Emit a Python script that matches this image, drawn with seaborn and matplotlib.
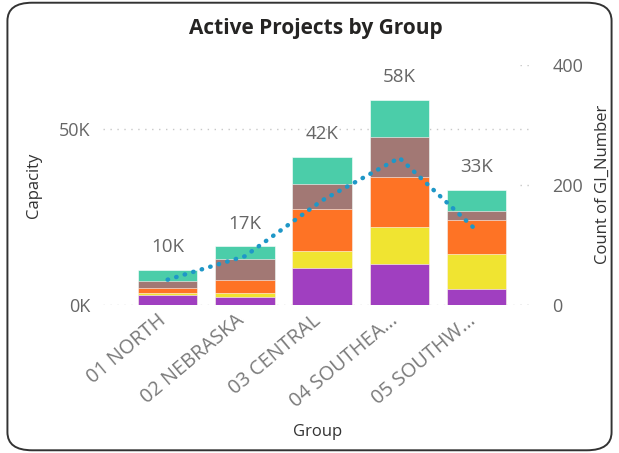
import numpy as np
import pandas as pd
import matplotlib
matplotlib.use("Agg")
import matplotlib.pyplot as plt
import matplotlib.transforms as mtransforms
from matplotlib.patches import FancyBboxPatch
import seaborn as sns

# data
groups = ['01 NORTH', '02 NEBRASKA', '03 CENTRAL', '04 SOUTHEA...', '05 SOUTHW...']
purple = [2.8, 2.2, 10.4, 11.6, 4.5]     # capacity, thousands
yellow = [0.6, 1.1, 4.8, 10.5, 10.0]
orange = [1.4, 3.8, 11.9, 14.3, 9.5]
brown = [2.1, 5.9, 7.2, 11.3, 2.6]
teal = [2.9, 3.6, 7.6, 10.5, 6.0]
gi_count = [42, 81, 174, 245, 124]

segments = [purple, yellow, orange, brown, teal]
seg_colors = ['#A03FC0', '#F0E431', '#FE7325', '#A27874', '#4BCDA9']

sns.set_style('white')
plt.rcParams['font.family'] = ['Open Sans', 'DejaVu Sans']

fig = plt.figure(figsize=(6.19, 4.53), dpi=100)
ax = fig.add_axes([0.166, 0.327, 0.695, 0.530])

df = pd.DataFrame({'Group': groups})
cum = np.zeros(len(groups))
cums = []
for seg in segments:
    cum = cum + np.array(seg) * 1000
    cums.append(cum.copy())

# stacked bars: draw cumulative totals from the top segment down
for c, col in reversed(list(zip(cums, seg_colors))):
    df['v'] = c
    sns.barplot(data=df, x='Group', y='v', color=col, width=0.77,
                edgecolor='white', linewidth=0.4, saturation=1, ax=ax)

totals = cums[-1]
for i, t in enumerate(totals):
    ax.annotate('%dK' % round(t / 1000), (i, t), xytext=(0, 10),
                textcoords='offset points', ha='center', va='bottom',
                fontsize=13.5, color='#666666')

ax.set_ylim(0, 68200)
ax.set_xlim(-0.84, 4.73)
ax.set_yticks([0, 50000])
ax.set_yticklabels(['0K', '50K'], fontsize=13, color='#666666')
ax.tick_params(axis='both', length=0, pad=9)
ax.set_xticks(range(len(groups)))
ax.set_xticklabels(groups, rotation=40, ha='right', rotation_mode='anchor',
                   fontsize=14.3, color='#7a7a7a')
ax.tick_params(axis='x', pad=4)
shift = mtransforms.ScaledTranslation(-10 / 100, 0, fig.dpi_scale_trans)
for lab in ax.get_xticklabels():
    lab.set_transform(lab.get_transform() + shift)
for yv in [0, 50000]:
    ax.axhline(yv, color='#c8c8c8', linestyle=(0, (1, 4)), linewidth=1, zorder=0)
for s in ax.spines.values():
    s.set_visible(False)
ax.set_ylabel('Capacity', fontsize=12, color='#333333', labelpad=12)
ax.set_xlabel('Group', fontsize=12, color='#333333', labelpad=9)

ax2 = ax.twinx()
sns.lineplot(x=np.arange(len(groups)), y=gi_count, ax=ax2, color='#1F97C7',
             linewidth=3.2, linestyle=(0, (0.1, 1.9)), solid_capstyle='round',
             dash_capstyle='round')
ax2.set_ylim(0, 400)
ax2.set_yticks([0, 200, 400])
ax2.set_yticklabels(['0', '200', '400'], fontsize=13, color='#666666')
ax2.tick_params(axis='y', length=0, pad=14)
for yv in [0, 200, 400]:
    ax2.axhline(yv, xmin=0.97, xmax=1.0, color='#c8c8c8',
                linestyle=(0, (1, 4)), linewidth=1)
for s in ax2.spines.values():
    s.set_visible(False)
ax2.set_ylabel('Count of GI_Number', fontsize=12, color='#333333', labelpad=8)

fig.text(0.511, 0.936, 'Active Projects by Group', ha='center', va='center',
         fontsize=15, fontweight='bold', color='#252423')

border = FancyBboxPatch((0.012, 0.006), 0.976, 0.988,
                        boxstyle='round,pad=0,rounding_size=0.04',
                        transform=fig.transFigure, fill=False,
                        edgecolor='#333333', linewidth=1.4)
fig.patches.append(border)

fig.savefig('out.png', dpi=100)
